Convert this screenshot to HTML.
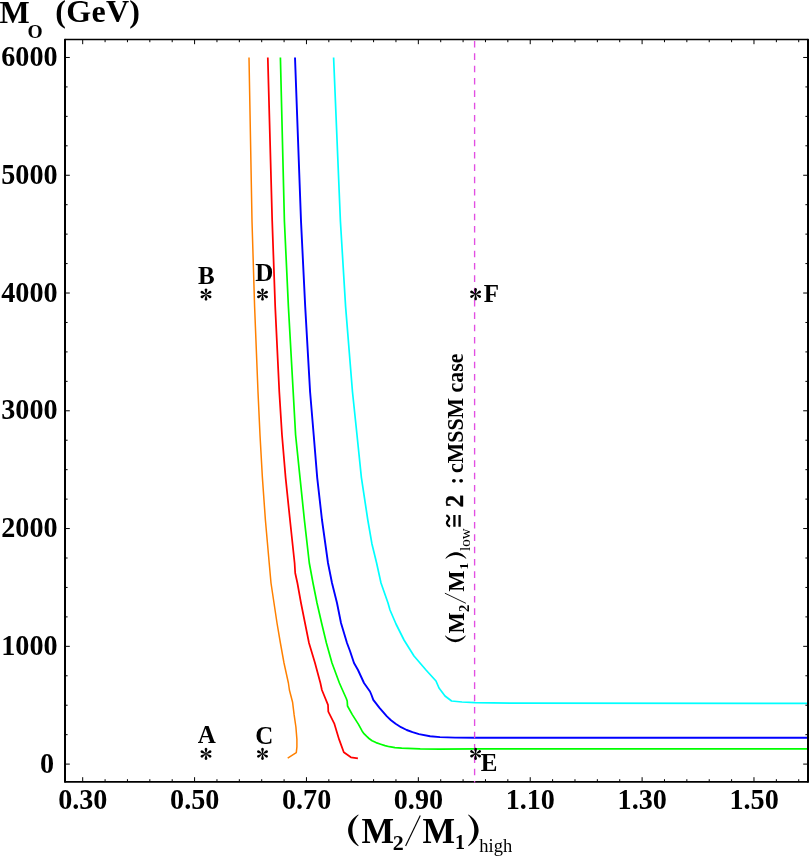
<!DOCTYPE html>
<html><head><meta charset="utf-8"><title>plot</title>
<style>
html,body{margin:0;padding:0;background:#fff;}
svg{display:block;will-change:transform;}
text{font-family:"Liberation Serif",serif;fill:#000;}
.b{font-weight:bold;}
</style></head><body>
<svg width="810" height="856" viewBox="0 0 810 856">
<rect x="0" y="0" width="810" height="856" fill="#fff"/>
<path d="M249.0 57.5 L252.0 221.0 L254.6 306.6 L258.0 392.0 L260.0 435.0 L262.4 477.6 L265.4 520.0 L269.2 563.0 L271.0 583.0 L274.0 603.0 L277.0 623.0 L280.4 643.0 L284.0 663.0 L288.4 683.0 L289.4 690.0 L292.6 702.3 L294.1 714.7 L295.9 727.0 L296.9 739.4 L296.9 746.8 L296.3 752.7 L287.7 758.1" fill="none" stroke="#ff8000" stroke-width="1.5" stroke-linejoin="round"/>
<path d="M267.8 57.5 L272.2 221.0 L275.2 306.6 L279.3 392.0 L282.0 435.0 L285.6 477.6 L290.0 520.0 L294.6 563.0 L295.2 573.0 L297.4 583.0 L301.0 603.0 L305.0 623.0 L309.0 643.0 L315.0 663.0 L320.4 683.0 L321.9 690.0 L328.0 704.8 L328.3 711.6 L334.2 723.3 L339.1 739.4 L343.8 752.3 L350.9 757.3 L357.9 758.3" fill="none" stroke="#ff0000" stroke-width="1.75" stroke-linejoin="round"/>
<path d="M280.4 57.5 L284.4 221.0 L288.4 306.6 L293.2 392.0 L295.6 435.0 L300.0 477.6 L304.4 520.0 L309.3 563.0 L313.0 583.0 L317.0 603.0 L321.6 623.0 L326.4 643.0 L332.0 663.0 L339.4 683.0 L341.6 688.0 L346.3 698.5 L347.2 701.0 L347.5 706.0 L352.3 714.6 L358.5 724.4 L362.2 731.2 L364.2 733.9 L366.5 736.2 L369.0 738.5 L372.1 740.7 L376.0 742.6 L380.7 744.2 L385.0 745.6 L389.4 746.7 L395.0 747.6 L401.7 748.2 L420.2 748.9 L440.0 749.2 L475.0 748.8 L512.0 748.8 L808.0 748.8" fill="none" stroke="#00ff00" stroke-width="1.7" stroke-linejoin="round"/>
<path d="M295.0 57.5 L301.0 221.0 L305.2 306.6 L310.1 392.0 L313.7 435.0 L317.2 477.6 L322.0 520.0 L328.0 563.0 L332.0 583.0 L337.0 603.0 L341.0 623.0 L347.0 643.0 L350.0 651.0 L354.0 663.0 L358.0 670.0 L364.0 683.0 L370.0 691.5 L371.5 695.0 L373.3 699.8 L379.5 707.8 L386.9 716.4 L391.0 720.2 L395.6 723.8 L401.0 727.2 L406.7 730.0 L412.5 732.2 L419.0 734.1 L430.1 736.2 L440.0 737.1 L455.0 737.6 L475.0 737.7 L512.0 737.8 L808.0 737.8" fill="none" stroke="#0000ff" stroke-width="1.9" stroke-linejoin="round"/>
<path d="M333.6 57.5 L340.4 221.0 L345.6 306.6 L352.5 392.0 L357.0 435.0 L361.4 477.6 L367.8 520.0 L371.9 543.7 L376.6 563.0 L381.0 583.0 L388.0 603.0 L390.0 610.0 L396.0 624.0 L404.0 640.0 L414.0 656.0 L426.0 670.0 L436.0 681.0 L439.0 688.0 L445.0 696.0 L451.6 701.0 L462.0 702.0 L475.0 702.6 L512.0 703.2 L808.0 703.3" fill="none" stroke="#00ffff" stroke-width="1.7" stroke-linejoin="round"/>
<path d="M82.70 781.80V777.20M82.70 39.60V44.20M105.08 781.80V779.20M105.08 39.60V42.20M127.45 781.80V779.20M127.45 39.60V42.20M149.83 781.80V779.20M149.83 39.60V42.20M172.20 781.80V779.20M172.20 39.60V42.20M194.58 781.80V777.20M194.58 39.60V44.20M216.96 781.80V779.20M216.96 39.60V42.20M239.33 781.80V779.20M239.33 39.60V42.20M261.71 781.80V779.20M261.71 39.60V42.20M284.08 781.80V779.20M284.08 39.60V42.20M306.46 781.80V777.20M306.46 39.60V44.20M328.84 781.80V779.20M328.84 39.60V42.20M351.21 781.80V779.20M351.21 39.60V42.20M373.59 781.80V779.20M373.59 39.60V42.20M395.96 781.80V779.20M395.96 39.60V42.20M418.34 781.80V777.20M418.34 39.60V44.20M440.72 781.80V779.20M440.72 39.60V42.20M463.09 781.80V779.20M463.09 39.60V42.20M485.47 781.80V779.20M485.47 39.60V42.20M507.84 781.80V779.20M507.84 39.60V42.20M530.22 781.80V777.20M530.22 39.60V44.20M552.60 781.80V779.20M552.60 39.60V42.20M574.97 781.80V779.20M574.97 39.60V42.20M597.35 781.80V779.20M597.35 39.60V42.20M619.72 781.80V779.20M619.72 39.60V42.20M642.10 781.80V777.20M642.10 39.60V44.20M664.48 781.80V779.20M664.48 39.60V42.20M686.85 781.80V779.20M686.85 39.60V42.20M709.23 781.80V779.20M709.23 39.60V42.20M731.60 781.80V779.20M731.60 39.60V42.20M753.98 781.80V777.20M753.98 39.60V44.20M776.36 781.80V779.20M776.36 39.60V42.20M798.73 781.80V779.20M798.73 39.60V42.20M65.00 764.10H69.80M808.00 764.10H803.20M65.00 734.66H67.60M808.00 734.66H805.40M65.00 705.22H67.60M808.00 705.22H805.40M65.00 675.77H67.60M808.00 675.77H805.40M65.00 646.33H69.80M808.00 646.33H803.20M65.00 616.89H67.60M808.00 616.89H805.40M65.00 587.45H67.60M808.00 587.45H805.40M65.00 558.00H67.60M808.00 558.00H805.40M65.00 528.56H69.80M808.00 528.56H803.20M65.00 499.12H67.60M808.00 499.12H805.40M65.00 469.68H67.60M808.00 469.68H805.40M65.00 440.23H67.60M808.00 440.23H805.40M65.00 410.79H69.80M808.00 410.79H803.20M65.00 381.35H67.60M808.00 381.35H805.40M65.00 351.91H67.60M808.00 351.91H805.40M65.00 322.46H67.60M808.00 322.46H805.40M65.00 293.02H69.80M808.00 293.02H803.20M65.00 263.58H67.60M808.00 263.58H805.40M65.00 234.13H67.60M808.00 234.13H805.40M65.00 204.69H67.60M808.00 204.69H805.40M65.00 175.25H69.80M808.00 175.25H803.20M65.00 145.81H67.60M808.00 145.81H805.40M65.00 116.37H67.60M808.00 116.37H805.40M65.00 86.92H67.60M808.00 86.92H805.40M65.00 57.48H69.80M808.00 57.48H803.20" stroke="#000" stroke-width="1" fill="none"/>
<g stroke="#000" stroke-linecap="round" fill="none"><path d="M65 39.7V781.7M808 39.7V781.7" stroke-width="2"/><path d="M65 39.6H808" stroke-width="1.5"/><path d="M65 781.8H808" stroke-width="1.8"/></g>
<line x1="474.6" y1="41.0" x2="474.6" y2="782.5" stroke="#e24ee2" stroke-width="1.35" stroke-dasharray="6.6 5.733"/>
<text class="b" transform="translate(54.0,772.7) scale(0.955,1)" font-size="29.5" text-anchor="end">0</text>
<text class="b" transform="translate(57.6,654.9) scale(0.955,1)" font-size="29.5" text-anchor="end">1000</text>
<text class="b" transform="translate(57.6,537.2) scale(0.955,1)" font-size="29.5" text-anchor="end">2000</text>
<text class="b" transform="translate(57.6,419.4) scale(0.955,1)" font-size="29.5" text-anchor="end">3000</text>
<text class="b" transform="translate(57.6,301.6) scale(0.955,1)" font-size="29.5" text-anchor="end">4000</text>
<text class="b" transform="translate(57.6,183.8) scale(0.955,1)" font-size="29.5" text-anchor="end">5000</text>
<text class="b" transform="translate(57.6,66.1) scale(0.955,1)" font-size="29.5" text-anchor="end">6000</text>
<text class="b" transform="translate(82.8,808.8) scale(0.955,1)" font-size="29.5" text-anchor="middle">0.30</text>
<text class="b" transform="translate(194.7,808.8) scale(0.955,1)" font-size="29.5" text-anchor="middle">0.50</text>
<text class="b" transform="translate(306.6,808.8) scale(0.955,1)" font-size="29.5" text-anchor="middle">0.70</text>
<text class="b" transform="translate(418.4,808.8) scale(0.955,1)" font-size="29.5" text-anchor="middle">0.90</text>
<text class="b" transform="translate(530.3,808.8) scale(0.955,1)" font-size="29.5" text-anchor="middle">1.10</text>
<text class="b" transform="translate(642.2,808.8) scale(0.955,1)" font-size="29.5" text-anchor="middle">1.30</text>
<text class="b" transform="translate(754.1,808.8) scale(0.955,1)" font-size="29.5" text-anchor="middle">1.50</text>
<g transform="translate(206.0,294.5)"><path transform="rotate(0)" d="M0 0.7L-1.25 -4.15A1.37 1.37 0 1 1 1.25 -4.15Z"/><path transform="rotate(60)" d="M0 0.7L-1.25 -4.15A1.37 1.37 0 1 1 1.25 -4.15Z"/><path transform="rotate(120)" d="M0 0.7L-1.25 -4.15A1.37 1.37 0 1 1 1.25 -4.15Z"/><path transform="rotate(180)" d="M0 0.7L-1.25 -4.15A1.37 1.37 0 1 1 1.25 -4.15Z"/><path transform="rotate(240)" d="M0 0.7L-1.25 -4.15A1.37 1.37 0 1 1 1.25 -4.15Z"/><path transform="rotate(300)" d="M0 0.7L-1.25 -4.15A1.37 1.37 0 1 1 1.25 -4.15Z"/></g>
<g transform="translate(262.5,294.5)"><path transform="rotate(0)" d="M0 0.7L-1.25 -4.15A1.37 1.37 0 1 1 1.25 -4.15Z"/><path transform="rotate(60)" d="M0 0.7L-1.25 -4.15A1.37 1.37 0 1 1 1.25 -4.15Z"/><path transform="rotate(120)" d="M0 0.7L-1.25 -4.15A1.37 1.37 0 1 1 1.25 -4.15Z"/><path transform="rotate(180)" d="M0 0.7L-1.25 -4.15A1.37 1.37 0 1 1 1.25 -4.15Z"/><path transform="rotate(240)" d="M0 0.7L-1.25 -4.15A1.37 1.37 0 1 1 1.25 -4.15Z"/><path transform="rotate(300)" d="M0 0.7L-1.25 -4.15A1.37 1.37 0 1 1 1.25 -4.15Z"/></g>
<g transform="translate(206.0,753.9)"><path transform="rotate(0)" d="M0 0.7L-1.25 -4.15A1.37 1.37 0 1 1 1.25 -4.15Z"/><path transform="rotate(60)" d="M0 0.7L-1.25 -4.15A1.37 1.37 0 1 1 1.25 -4.15Z"/><path transform="rotate(120)" d="M0 0.7L-1.25 -4.15A1.37 1.37 0 1 1 1.25 -4.15Z"/><path transform="rotate(180)" d="M0 0.7L-1.25 -4.15A1.37 1.37 0 1 1 1.25 -4.15Z"/><path transform="rotate(240)" d="M0 0.7L-1.25 -4.15A1.37 1.37 0 1 1 1.25 -4.15Z"/><path transform="rotate(300)" d="M0 0.7L-1.25 -4.15A1.37 1.37 0 1 1 1.25 -4.15Z"/></g>
<g transform="translate(262.5,753.9)"><path transform="rotate(0)" d="M0 0.7L-1.25 -4.15A1.37 1.37 0 1 1 1.25 -4.15Z"/><path transform="rotate(60)" d="M0 0.7L-1.25 -4.15A1.37 1.37 0 1 1 1.25 -4.15Z"/><path transform="rotate(120)" d="M0 0.7L-1.25 -4.15A1.37 1.37 0 1 1 1.25 -4.15Z"/><path transform="rotate(180)" d="M0 0.7L-1.25 -4.15A1.37 1.37 0 1 1 1.25 -4.15Z"/><path transform="rotate(240)" d="M0 0.7L-1.25 -4.15A1.37 1.37 0 1 1 1.25 -4.15Z"/><path transform="rotate(300)" d="M0 0.7L-1.25 -4.15A1.37 1.37 0 1 1 1.25 -4.15Z"/></g>
<g transform="translate(475.6,294.2)"><path transform="rotate(0)" d="M0 0.7L-1.25 -4.15A1.37 1.37 0 1 1 1.25 -4.15Z"/><path transform="rotate(60)" d="M0 0.7L-1.25 -4.15A1.37 1.37 0 1 1 1.25 -4.15Z"/><path transform="rotate(120)" d="M0 0.7L-1.25 -4.15A1.37 1.37 0 1 1 1.25 -4.15Z"/><path transform="rotate(180)" d="M0 0.7L-1.25 -4.15A1.37 1.37 0 1 1 1.25 -4.15Z"/><path transform="rotate(240)" d="M0 0.7L-1.25 -4.15A1.37 1.37 0 1 1 1.25 -4.15Z"/><path transform="rotate(300)" d="M0 0.7L-1.25 -4.15A1.37 1.37 0 1 1 1.25 -4.15Z"/></g>
<g transform="translate(475.6,753.8)"><path transform="rotate(0)" d="M0 0.7L-1.25 -4.15A1.37 1.37 0 1 1 1.25 -4.15Z"/><path transform="rotate(60)" d="M0 0.7L-1.25 -4.15A1.37 1.37 0 1 1 1.25 -4.15Z"/><path transform="rotate(120)" d="M0 0.7L-1.25 -4.15A1.37 1.37 0 1 1 1.25 -4.15Z"/><path transform="rotate(180)" d="M0 0.7L-1.25 -4.15A1.37 1.37 0 1 1 1.25 -4.15Z"/><path transform="rotate(240)" d="M0 0.7L-1.25 -4.15A1.37 1.37 0 1 1 1.25 -4.15Z"/><path transform="rotate(300)" d="M0 0.7L-1.25 -4.15A1.37 1.37 0 1 1 1.25 -4.15Z"/></g>
<text class="b" x="198.0" y="284.2" font-size="25">B</text>
<text class="b" x="255.2" y="281.0" font-size="25">D</text>
<text class="b" x="197.8" y="743.3" font-size="25">A</text>
<text class="b" x="255.2" y="743.5" font-size="25">C</text>
<text class="b" x="483.8" y="302.1" font-size="25">F</text>
<text class="b" x="480.8" y="770.6" font-size="25">E</text>
<text class="b" x="-0.6" y="22.6" font-size="32">M</text>
<text class="b" x="27.5" y="37.5" font-size="19.5">O</text>
<text class="b" x="55.3" y="22.3" font-size="32" letter-spacing="0.3">(GeV)</text>
<path transform="translate(348.1,814.4)" d="M10.1 0C2 5 0 11.6 0 15.9C0 20.2 2 26.8 10.1 31.8L10.5 31.2C6 26.4 4.3 21.4 4.3 15.9C4.3 10.4 6 5.4 10.5 0.6Z"/>
<text class="b" transform="translate(361.4,842.6) scale(1,1.05)" font-size="34.5">M</text>
<text class="b" x="392.7" y="849.8" font-size="22">2</text>
<line x1="405.6" y1="846" x2="420.3" y2="815.4" stroke="#000" stroke-width="1.15"/>
<text class="b" transform="translate(422.6,842.6) scale(1,1.05)" font-size="34.5">M</text>
<text class="b" x="455.0" y="849.3" font-size="20">1</text>
<path transform="translate(478.6,814.4) scale(-1,1)" d="M10.1 0C2 5 0 11.6 0 15.9C0 20.2 2 26.8 10.1 31.8L10.5 31.2C6 26.4 4.3 21.4 4.3 15.9C4.3 10.4 6 5.4 10.5 0.6Z"/>
<text x="479.3" y="852.3" font-size="18.5">high</text>
<g transform="translate(463.8,642.2) rotate(-90)">
<path transform="translate(0,-18.9) scale(0.63,0.66)" d="M10.1 0C2 5 0 11.6 0 15.9C0 20.2 2 26.8 10.1 31.8L10.5 31.2C6 26.4 4.3 21.4 4.3 15.9C4.3 10.4 6 5.4 10.5 0.6Z"/>
<text class="b" transform="translate(8.8,0) scale(1,1.04)" font-size="22.5">M</text>
<text class="b" x="30.2" y="4.8" font-size="14.6">2</text>
<line x1="38.9" y1="2.1" x2="49" y2="-18.9" stroke="#000" stroke-width="0.9"/>
<text class="b" transform="translate(50.4,0) scale(1,1.04)" font-size="22.5">M</text>
<text class="b" x="72.6" y="4.2" font-size="13.5">1</text>
<path transform="translate(90,-18.4) scale(-0.63,0.66)" d="M10.1 0C2 5 0 11.6 0 15.9C0 20.2 2 26.8 10.1 31.8L10.5 31.2C6 26.4 4.3 21.4 4.3 15.9C4.3 10.4 6 5.4 10.5 0.6Z"/>
<text x="91.2" y="6.5" font-size="15">low</text>
<path d="M115.6 -13.7C117.6 -18.1 120.2 -17.1 121.6 -15.7C123 -14.3 125 -13.7 126.9 -17.5" fill="none" stroke="#000" stroke-width="2.2"/>
<path d="M115.4 -9.4H127.1M115.4 -4.2H127.1" fill="none" stroke="#000" stroke-width="2.3"/>
<text class="b" transform="translate(134.9,-0.9) scale(0.96,1)" font-size="26" stroke="#000" stroke-width="0.4">2</text>
<text class="b" x="157.6" y="-0.5" font-size="23">:</text>
<text class="b" transform="translate(169.3,-0.7) scale(1,1.05)" font-size="21.8">cMSSM case</text>
</g>
</svg>
</body></html>
